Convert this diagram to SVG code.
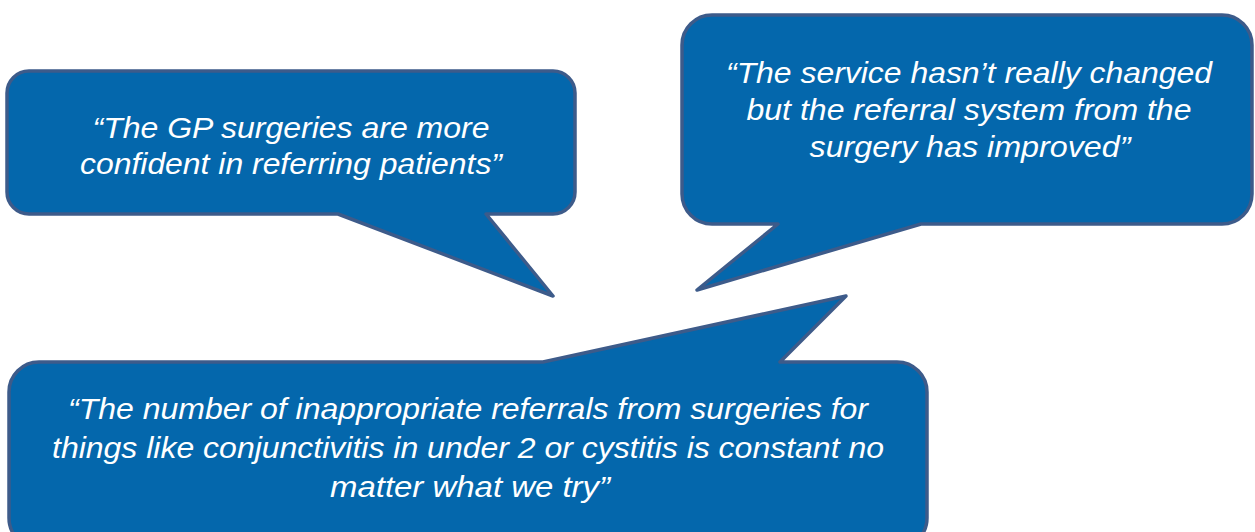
<svg xmlns="http://www.w3.org/2000/svg" width="1255" height="532" viewBox="0 0 1255 532">
<style>
.bubble{fill:#0467AC;stroke:#3D5B8A;stroke-width:3.5;stroke-linejoin:round}
.q{fill:#ffffff;font-family:"Liberation Sans",Arial,sans-serif;font-style:italic;text-anchor:middle}
</style>
<rect width="1255" height="532" fill="#ffffff"/>
<g id="bubble1">
<path class="bubble" d="M 29,71 H 553 A 22 22 0 0 1 575,93 V 192 A 22 22 0 0 1 553,214 H 486 L 553,296 L 338,214 H 29 A 22 22 0 0 1 7,192 V 93 A 22 22 0 0 1 29,71 Z"/>
<text class="q" font-size="30" x="291" y="138" textLength="397" lengthAdjust="spacingAndGlyphs">“The GP surgeries are more</text>
<text class="q" font-size="30" x="291" y="174" textLength="422" lengthAdjust="spacingAndGlyphs">confident in referring patients”</text>
</g>
<g id="bubble2">
<path class="bubble" d="M 712,15 H 1222 A 30 30 0 0 1 1252,45 V 194 A 30 30 0 0 1 1222,224 H 921 L 697,290 L 778,224 H 712 A 30 30 0 0 1 682,194 V 45 A 30 30 0 0 1 712,15 Z"/>
<text class="q" font-size="30" x="969" y="83" textLength="486" lengthAdjust="spacingAndGlyphs">“The service hasn’t really changed</text>
<text class="q" font-size="30" x="969" y="120" textLength="445" lengthAdjust="spacingAndGlyphs">but the referral system from the</text>
<text class="q" font-size="30" x="970" y="157" textLength="321" lengthAdjust="spacingAndGlyphs">surgery has improved”</text>
</g>
<g id="bubble3">
<path class="bubble" d="M 39,362 H 543 L 846,296 L 780,362 H 897 A 30 30 0 0 1 927,392 V 518 A 30 30 0 0 1 897,548 H 39 A 30 30 0 0 1 9,518 V 392 A 30 30 0 0 1 39,362 Z"/>
<text class="q" font-size="30" x="468" y="419" textLength="800" lengthAdjust="spacingAndGlyphs">“The number of inappropriate referrals from surgeries for</text>
<text class="q" font-size="30" x="468" y="458" textLength="832" lengthAdjust="spacingAndGlyphs">things like conjunctivitis in under 2 or cystitis is constant no</text>
<text class="q" font-size="30" x="470" y="497" textLength="280" lengthAdjust="spacingAndGlyphs">matter what we try”</text>
</g>
</svg>
